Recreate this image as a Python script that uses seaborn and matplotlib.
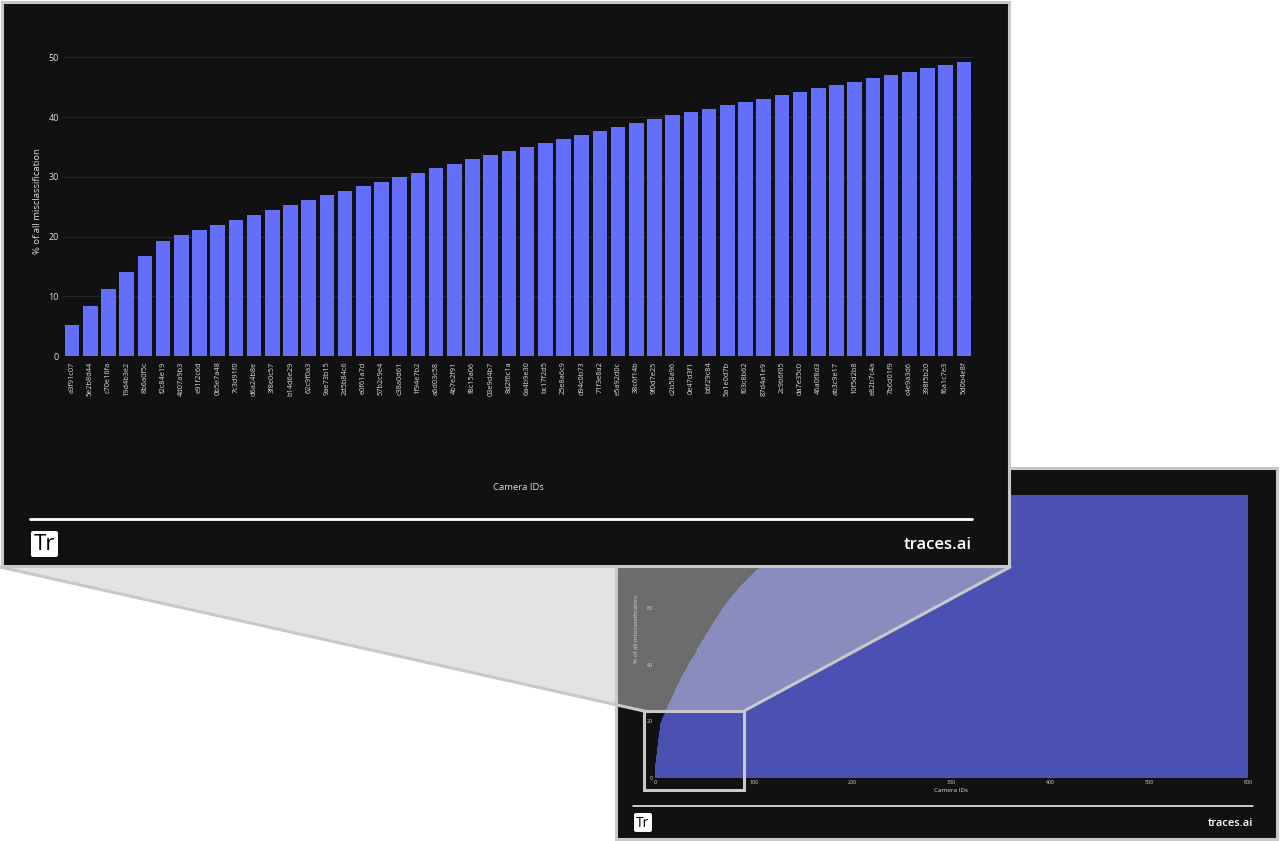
import matplotlib; matplotlib.use("Agg")
import matplotlib.pyplot as plt
from matplotlib.patches import Rectangle, Polygon, FancyBboxPatch
from matplotlib.lines import Line2D
import numpy as np
import pandas as pd
import seaborn as sns

W, H = 1280, 841
BG = "#111111"; BAR = "#636efa"; BAR_SMALL = "#4b51b2"; FRAME = "#c8c8c8"
TXT = "#dddddd"; GRID = "#22272f"

# first 50 cameras (zoomed panel), cumulative % of all misclassification
CAMERA_IDS = ["a3f91c07", "5e2b8d44", "c70e16fa", "19d4b3e2", "8b6a0f5c", "f2c84e19", "4d07a9b3", "e91f2c6d", "0b5e7a48", "7c3d91f0",
              "d6a24b8e", "3f8e0c57", "b14d6e29", "62c9f0a3", "9ae73b15", "2d5b84c6", "e0f61a7d", "57b2c9e4", "c38a0d61", "1f94e7b2",
              "a6d03c58", "4b7e2f91", "f8c15a06", "03e9d4b7", "8d2f6c1a", "6a4b9e30", "bc17f2d5", "25e8a6c9", "d94c0b73", "71f3e8a2",
              "e5a92d0c", "38c6f14b", "9f0d7e25", "c2b58a96", "0e47d3f1", "b6f29c84", "5a1e0d7b", "f03c8b62", "87d4a1e9", "2c9b6f05",
              "da7e35c0", "46a0f8d3", "ab3c9e17", "10f5d2b8", "e82b7c4a", "7b6d01f9", "c4e9a3d6", "398f5b20", "f6a1c7e3", "5d0b4e8f"]
TOP_PCT = [5.2, 8.3, 11.2, 14.0, 16.7, 19.3, 20.2, 21.1, 21.9, 22.8,
           23.6, 24.4, 25.3, 26.1, 26.9, 27.7, 28.4, 29.1, 29.9, 30.6,
           31.4, 32.2, 32.9, 33.7, 34.3, 35.0, 35.7, 36.4, 37.0, 37.6,
           38.3, 39.0, 39.6, 40.3, 40.9, 41.4, 42.0, 42.6, 43.1, 43.7,
           44.2, 44.8, 45.4, 45.9, 46.5, 47.0, 47.6, 48.2, 48.8, 49.3]

# cameras 51..343 of the full chart
SMALL_TAIL = [49.9, 50.5, 51.0, 51.6, 52.2, 52.8, 53.4, 53.9, 54.5, 55.1,
              55.6, 56.2, 56.7, 57.3, 57.8, 58.4, 58.9, 59.5, 60.0, 60.6,
              61.0, 61.5, 61.9, 62.4, 62.8, 63.3, 63.7, 64.2, 64.6, 65.1,
              65.5, 65.9, 66.3, 66.7, 67.1, 67.5, 67.9, 68.3, 68.7, 69.1,
              69.4, 69.8, 70.1, 70.5, 70.8, 71.2, 71.5, 71.9, 72.2, 72.6,
              72.9, 73.2, 73.5, 73.8, 74.1, 74.4, 74.7, 75.0, 75.3, 75.6,
              75.9, 76.2, 76.4, 76.7, 77.0, 77.3, 77.6, 77.8, 78.1, 78.4,
              78.6, 78.9, 79.1, 79.4, 79.6, 79.9, 80.1, 80.4, 80.6, 80.9,
              81.1, 81.3, 81.5, 81.8, 82.0, 82.2, 82.4, 82.7, 82.9, 83.1,
              83.3, 83.5, 83.7, 83.9, 84.1, 84.3, 84.5, 84.7, 84.9, 85.1,
              85.3, 85.5, 85.6, 85.8, 86.0, 86.2, 86.4, 86.5, 86.7, 86.9,
              87.1, 87.2, 87.4, 87.5, 87.7, 87.9, 88.0, 88.2, 88.3, 88.5,
              88.6, 88.8, 88.9, 89.1, 89.2, 89.4, 89.5, 89.7, 89.8, 90.0,
              90.1, 90.3, 90.4, 90.5, 90.7, 90.8, 90.9, 91.0, 91.2, 91.3,
              91.4, 91.5, 91.7, 91.8, 91.9, 92.0, 92.1, 92.3, 92.4, 92.5,
              92.6, 92.7, 92.8, 92.9, 93.1, 93.2, 93.3, 93.4, 93.5, 93.6,
              93.7, 93.8, 93.9, 94.0, 94.1, 94.2, 94.3, 94.4, 94.5, 94.6,
              94.7, 94.8, 94.9, 95.0, 95.1, 95.1, 95.2, 95.3, 95.4, 95.5,
              95.6, 95.7, 95.7, 95.8, 95.9, 96.0, 96.1, 96.1, 96.2, 96.3,
              96.4, 96.4, 96.5, 96.6, 96.6, 96.7, 96.8, 96.9, 96.9, 97.0,
              97.1, 97.1, 97.2, 97.2, 97.3, 97.4, 97.4, 97.5, 97.5, 97.6,
              97.7, 97.7, 97.8, 97.8, 97.9, 97.9, 98.0, 98.0, 98.1, 98.1,
              98.2, 98.2, 98.3, 98.3, 98.4, 98.4, 98.5, 98.5, 98.6, 98.6,
              98.6, 98.7, 98.7, 98.8, 98.8, 98.8, 98.9, 98.9, 98.9, 99.0,
              99.0, 99.0, 99.1, 99.1, 99.1, 99.2, 99.2, 99.2, 99.3, 99.3,
              99.3, 99.3, 99.4, 99.4, 99.4, 99.4, 99.5, 99.5, 99.5, 99.6,
              99.6, 99.6, 99.6, 99.6, 99.7, 99.7, 99.7, 99.7, 99.7, 99.8,
              99.8, 99.8, 99.8, 99.8, 99.8, 99.8, 99.9, 99.9, 99.9, 99.9,
              99.9, 99.9, 99.9, 99.9, 99.9, 99.9, 99.9, 99.9, 99.9, 99.9,
              99.9, 99.9, 99.9]
SMALL_FLAT = [100.0] * 257          # cameras 344..600 all sit at 100 %
X_TICKS_SMALL = [0, 100, 200, 300, 400, 500, 600]
Y_TICKS_SMALL = [0, 20, 40, 60, 80, 100]
Y_TICKS_TOP = [0, 10, 20, 30, 40, 50]


def box(x0, y0, x1, y1):
    """pixel box (top-left origin) -> figure fraction [l, b, w, h]"""
    return [x0 / W, 1 - y1 / H, (x1 - x0) / W, (y1 - y0) / H]

def pt(x, y):
    return (x / W, 1 - y / H)


sns.set_theme(style="dark")
plt.rcParams["font.family"] = ["Open Sans", "DejaVu Sans"]
fig = plt.figure(figsize=(W / 100, H / 100), dpi=100, facecolor="white")
tf = fig.transFigure

def panel(x0, y0, x1, y1, lw, z):
    l, b, w, h = box(x0, y0, x1, y1)
    fig.add_artist(Rectangle((l, b), w, h, transform=tf, facecolor=BG,
                             edgecolor=FRAME, linewidth=lw, zorder=z))

def footer(x0, x1, y_line, lw, logo, logo_fs, brand_y, brand_fs, z):
    fig.add_artist(Line2D([x0 / W, x1 / W], [1 - y_line / H] * 2, transform=tf,
                          color="white", linewidth=lw, zorder=z))
    lx0, ly0, lx1, ly1 = logo
    l, b, w, h = box(lx0, ly0, lx1, ly1)
    fig.add_artist(FancyBboxPatch((l, b), w, h, boxstyle="round,pad=0,rounding_size=0.002",
                                  transform=tf, facecolor="white", edgecolor="none", zorder=z))
    fig.text(*pt((lx0 + lx1) / 2, (ly0 + ly1) / 2 + 1), "Tr", color="black", fontsize=logo_fs,
             ha="center", va="center", zorder=z + 0.1)
    fig.text(*pt(x1, brand_y), "traces.ai", color="white", fontsize=brand_fs,
             fontweight="semibold", ha="right", va="center", zorder=z)

# ---- overview panel (all 600 cameras) ----
panel(616, 468, 1277, 838.5, 2.2, 1)
ax_s = fig.add_axes(box(655, 480.6, 1248, 778))
ax_s.set_zorder(2)
small_pct = TOP_PCT + SMALL_TAIL + SMALL_FLAT
df_s = pd.DataFrame({"pos": np.arange(len(small_pct)) + 0.5, "pct": small_pct})
sns.barplot(data=df_s, x="pos", y="pct", native_scale=True, color=BAR_SMALL, saturation=1,
            width=1.0, linewidth=0, errorbar=None, ax=ax_s)
ax_s.set_facecolor(BG)
ax_s.set_xlim(0, 600); ax_s.set_ylim(0, 105.26)
ax_s.set_xticks(X_TICKS_SMALL); ax_s.set_yticks(Y_TICKS_SMALL)
ax_s.tick_params(length=0, labelsize=3.8, labelcolor=TXT, pad=1.5)
ax_s.set_xlabel("Camera IDs", fontsize=4.6, color=TXT)
ax_s.set_ylabel("% of all misclassification", fontsize=4.4, color=TXT)
ax_s.xaxis.set_label_coords(0.5, (778 - 790) / 297.4); ax_s.xaxis.label.set_va("center")
ax_s.yaxis.set_label_coords((637 - 655) / 593, 0.5); ax_s.yaxis.label.set_va("center")
ax_s.grid(False)
for s in ax_s.spines.values(): s.set_visible(False)
footer(633, 1253, 806, 1.1, (634, 813, 652, 832), 10, 823, 8, 3)

# ---- zoom callout ----
l, b, w, h = box(644, 711, 744, 790)
fig.add_artist(Rectangle((l, b), w, h, transform=tf, facecolor="none", edgecolor=FRAME,
                         linewidth=2.2, zorder=4))
funnel = [pt(0, 567), pt(1010, 567), pt(744, 711), pt(644, 711)]
fig.add_artist(Polygon(funnel, closed=True, transform=tf, facecolor=FRAME, alpha=0.5,
                       edgecolor="none", zorder=5))
for a, c in [((0, 567), (644, 711)), ((1010, 567), (744, 711))]:
    fig.add_artist(Line2D([a[0] / W, c[0] / W], [1 - a[1] / H, 1 - c[1] / H], transform=tf,
                          color=FRAME, linewidth=2.2, solid_capstyle="round", zorder=5.5))

# ---- zoomed panel (first 50 cameras) ----
panel(1.5, 1.5, 1008.5, 566, 2.2, 6)
ax = fig.add_axes(box(63, 46, 973, 356))
ax.set_zorder(7)
sns.barplot(x=CAMERA_IDS, y=TOP_PCT, color=BAR, saturation=1, width=0.8,
            linewidth=0, errorbar=None, ax=ax)
ax.set_facecolor(BG)
ax.set_ylim(0, 51.9)
ax.set_yticks(Y_TICKS_TOP)
ax.grid(axis="y", color=GRID, linewidth=0.8); ax.set_axisbelow(True)
ax.tick_params(axis="y", length=0, labelsize=6.5, labelcolor=TXT, pad=3)
ax.tick_params(axis="x", length=0, labelsize=5.3, labelcolor=TXT, pad=4, labelrotation=90)
ax.set_xlabel("Camera IDs", fontsize=6.8, color=TXT)
ax.set_ylabel("% of all misclassification", fontsize=6.8, color=TXT)
ax.xaxis.set_label_coords(0.5, (356 - 487) / 310); ax.xaxis.label.set_va("center")
ax.yaxis.set_label_coords((37 - 63) / 910, 0.5); ax.yaxis.label.set_va("center")
for s in ax.spines.values(): s.set_visible(False)
footer(30, 972, 519, 2.0, (31, 531, 58, 557), 16, 545, 12, 8)

fig.savefig("out.png", dpi=100, facecolor="white")
